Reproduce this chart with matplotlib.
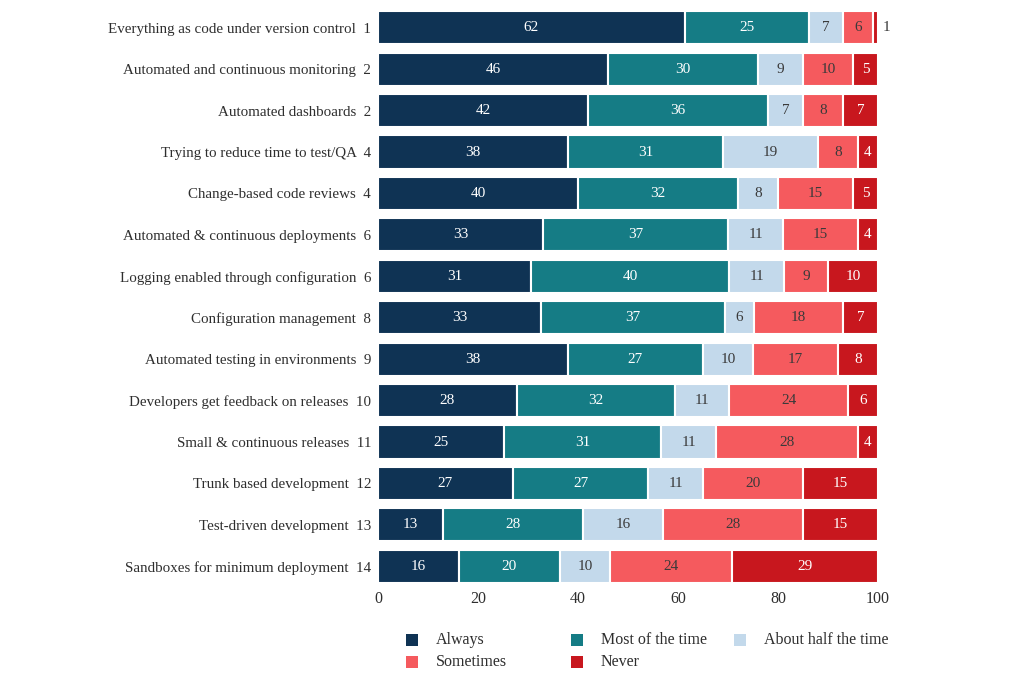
import matplotlib
matplotlib.use("Agg")
import matplotlib.pyplot as plt
from matplotlib.patches import Rectangle
import numpy as np

plt.rcParams['font.family'] = ['Liberation Serif', 'DejaVu Serif']

categories = [
    "Everything as code under version control",
    "Automated and continuous monitoring",
    "Automated dashboards",
    "Trying to reduce time to test/QA",
    "Change-based code reviews",
    "Automated & continuous deployments",
    "Logging enabled through configuration",
    "Configuration management",
    "Automated testing in environments",
    "Developers get feedback on releases",
    "Small & continuous releases",
    "Trunk based development",
    "Test-driven development",
    "Sandboxes for minimum deployment",
]
ranks = [1, 2, 2, 4, 4, 6, 6, 8, 9, 10, 11, 12, 13, 14]

series_names = ["Always", "Most of the time", "About half the time", "Sometimes", "Never"]
always = [62, 46, 42, 38, 40, 33, 31, 33, 38, 28, 25, 27, 13, 16]
most = [25, 30, 36, 31, 32, 37, 40, 37, 27, 32, 31, 27, 28, 20]
half = [7, 9, 7, 19, 8, 11, 11, 6, 10, 11, 11, 11, 16, 10]
sometimes = [6, 10, 8, 8, 15, 15, 9, 18, 17, 24, 28, 20, 28, 24]
never = [1, 5, 7, 4, 5, 4, 10, 7, 8, 6, 4, 15, 15, 29]
xticks = [0, 20, 40, 60, 80, 100]

colors = ["#0f3354", "#157c85", "#c3d9eb", "#f55a5e", "#c8171e"]
text_colors = ["white", "white", "#3a3a3a", "#3a3a3a", "white"]

data = np.array([always, most, half, sometimes, never], dtype=float)
totals = data.sum(axis=0)
scaled = data / totals * 100.0  # shares shown as full 100% bars

fig = plt.figure(figsize=(10.24, 6.83), dpi=100)
ax = fig.add_axes([378 / 1024, 1 - 587 / 683, 500 / 1024, 580 / 683])

y = np.arange(len(categories))
left = np.zeros(len(categories))
for i in range(5):
    bars = ax.barh(y, scaled[i], left=left, height=0.8, color=colors[i],
                   edgecolor="white", linewidth=1.5)
    for j, b in enumerate(bars):
        v = int(data[i, j])
        cx = left[j] + scaled[i, j] / 2
        if v < 2:
            ax.text(left[j] + scaled[i, j] + 1.0, y[j], str(v), ha="left", va="center",
                    fontsize=11, color="#3a3a3a")
        else:
            ax.text(cx, y[j], str(v), ha="center", va="center", fontsize=11,
                    color=text_colors[i])
    left += scaled[i]

ax.set_xlim(0, 100)
ax.set_ylim(len(categories) - 0.5, -0.5)
ax.set_yticks(y)
ax.set_yticklabels([f"{c}  {r}" for c, r in zip(categories, ranks)], fontsize=10.8,
                   color="#2e2e2e")
ax.set_xticks(xticks)
ax.set_xticklabels([str(t) for t in xticks], fontsize=11.5, color="#2e2e2e")
ax.tick_params(axis="both", length=0)
ax.tick_params(axis="y", pad=5)
ax.tick_params(axis="x", pad=3)
for s in ax.spines.values():
    s.set_visible(False)

# legend (grid layout)
legend_pos = [(406, 640), (571, 640), (734, 640), (406, 662), (571, 662)]
for (px, py), name, col in zip(legend_pos, series_names, colors):
    fig.patches.append(Rectangle((px / 1024, 1 - (py + 6) / 683), 12 / 1024, 12 / 683,
                                 transform=fig.transFigure, facecolor=col,
                                 edgecolor="none"))
    fig.text((px + 30) / 1024, 1 - py / 683, name, ha="left", va="center",
             fontsize=11.5, color="#2e2e2e")

fig.savefig("out.png", dpi=100)
